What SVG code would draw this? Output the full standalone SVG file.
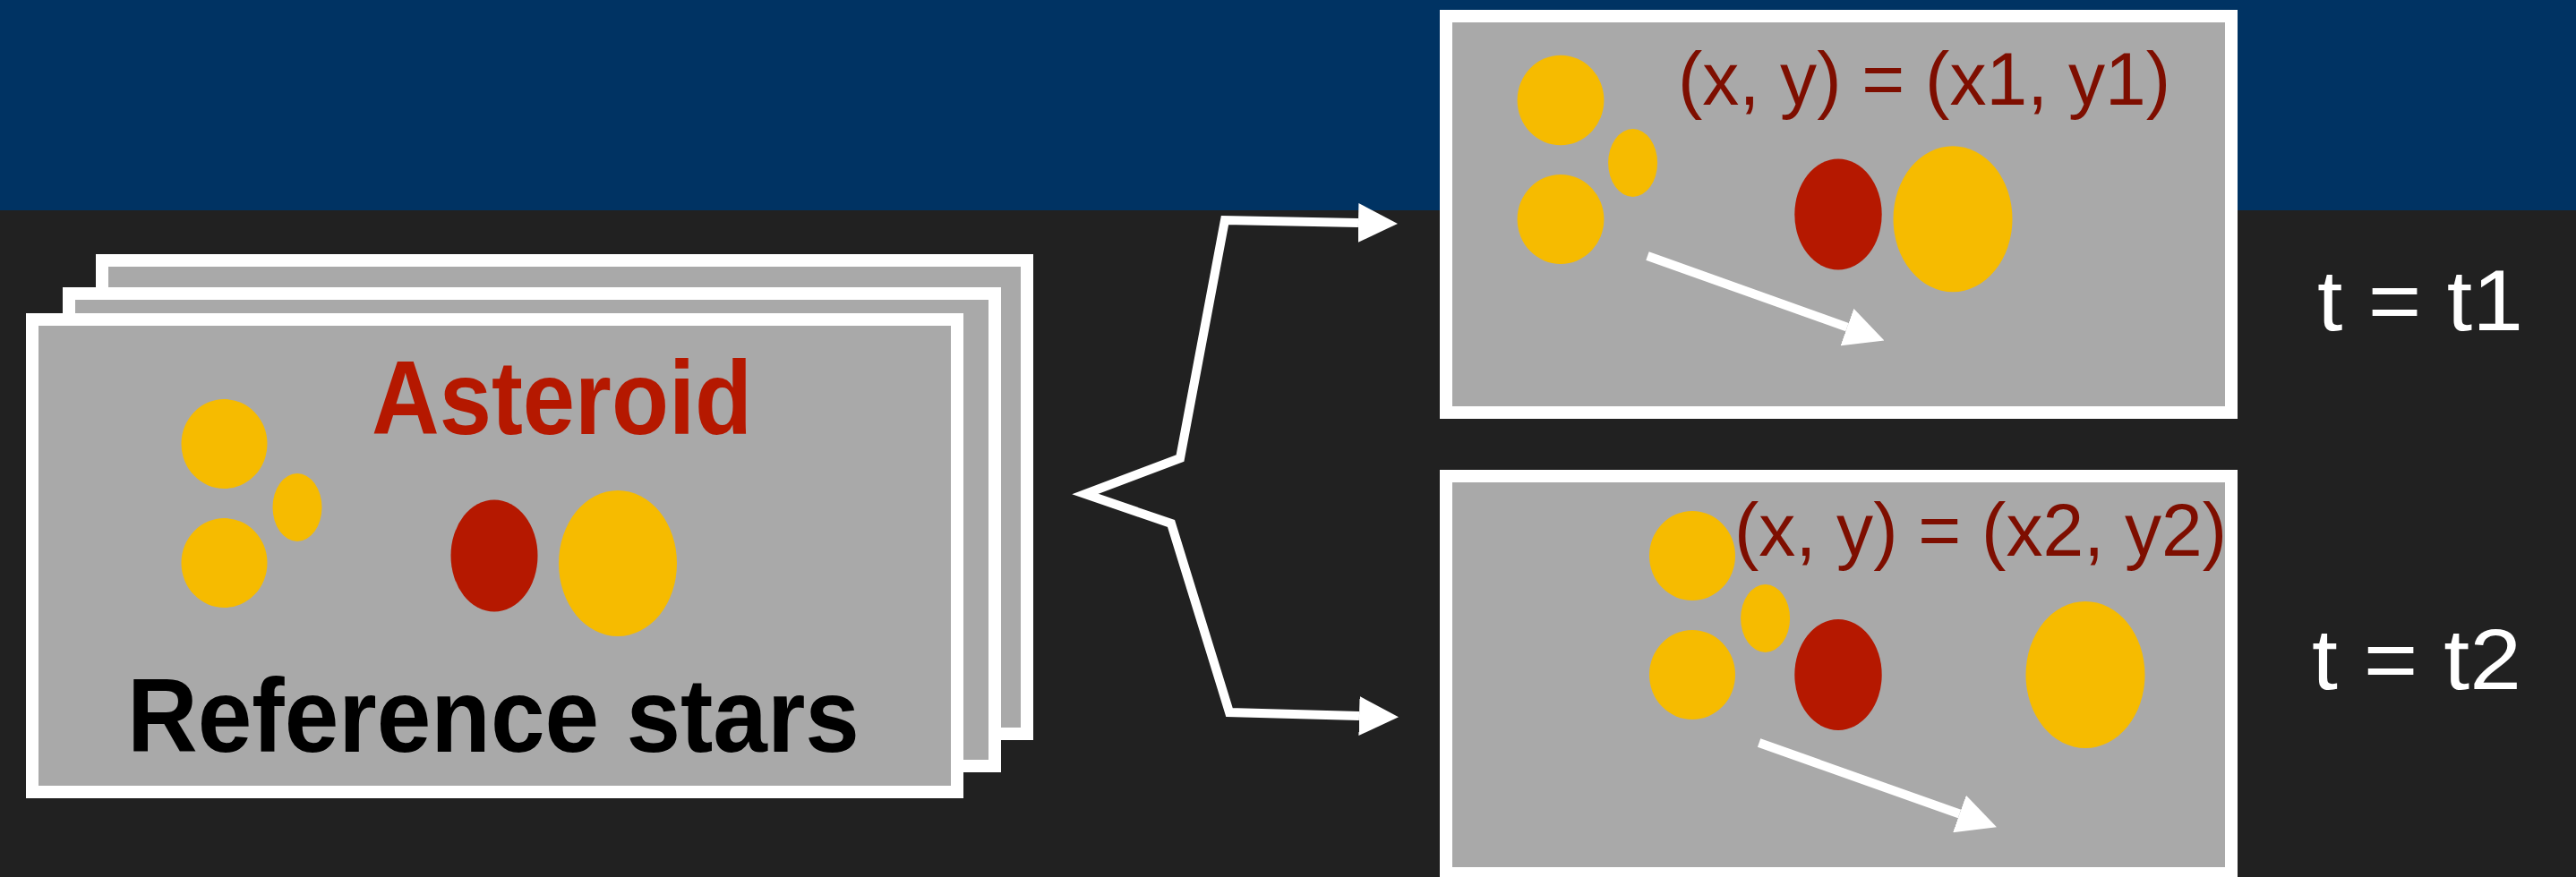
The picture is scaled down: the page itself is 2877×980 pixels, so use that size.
<svg xmlns="http://www.w3.org/2000/svg" width="2877" height="980" viewBox="0 0 2877 980">
<style>
.sheet{fill:#A9A9A9;stroke:#FFFFFF;stroke-width:14}
.star{fill:#F6BB00}
.ast{fill:#B51800}
.conn{fill:none;stroke:#FFFFFF;stroke-width:10;stroke-linejoin:miter;stroke-miterlimit:6}
.coord{font-family:"Liberation Sans",Arial,sans-serif;font-size:83px;fill:#7E0E00}
.time{font-family:"Liberation Sans",Arial,sans-serif;font-size:97px;fill:#FFFFFF}
</style>
<defs>
<marker id="ah" viewBox="0 0 44 44" refX="0" refY="22" markerWidth="44" markerHeight="44" markerUnits="userSpaceOnUse" orient="auto-start-reverse">
<path d="M0,0 L44,22 L0,44 z" fill="#FFFFFF"/>
</marker>
</defs>
<rect x="0" y="0" width="2877" height="980" fill="#212121"/>
<rect x="0" y="0" width="2877" height="235" fill="#003363"/>

<g id="reference-frames">
<rect class="sheet" x="114" y="291" width="1033" height="529"/>
<rect class="sheet" x="77" y="328" width="1034" height="528"/>
<rect class="sheet" x="36" y="357" width="1033" height="528"/>
<ellipse class="star" cx="250.5" cy="496" rx="48" ry="50"/>
<ellipse class="star" cx="250.5" cy="629" rx="48" ry="50"/>
<ellipse class="star" cx="332" cy="567" rx="27.5" ry="38"/>
<ellipse class="ast" cx="552" cy="621" rx="48.5" ry="62.5"/>
<ellipse class="star" cx="690" cy="629.5" rx="66" ry="81.5"/>
<text x="415" y="485" font-family="Liberation Sans, Arial, sans-serif" font-weight="bold" font-size="116" fill="#B51800" textLength="425" lengthAdjust="spacingAndGlyphs">Asteroid</text>
<text x="142" y="840" font-family="Liberation Sans, Arial, sans-serif" font-weight="bold" font-size="116" fill="#000000" textLength="818" lengthAdjust="spacingAndGlyphs">Reference stars</text>
</g>

<g id="frame-t1">
<rect class="sheet" x="1615" y="18" width="877" height="443"/>
<ellipse class="star" cx="1743" cy="112" rx="48.4" ry="50.3"/>
<ellipse class="star" cx="1743" cy="245" rx="48.4" ry="50"/>
<ellipse class="star" cx="1823.6" cy="182" rx="27.5" ry="38"/>
<ellipse class="ast" cx="2053" cy="239.5" rx="48.7" ry="62"/>
<ellipse class="star" cx="2181" cy="244.7" rx="66.5" ry="81.5"/>
<line class="conn" x1="1840" y1="286" x2="2063" y2="365.6" marker-end="url(#ah)"/>
<text class="coord" x="1874" y="117" textLength="550" lengthAdjust="spacingAndGlyphs">(x, y) = (x1, y1)</text>
</g>

<g id="frame-t2">
<rect class="sheet" x="1615" y="532" width="877" height="444"/>
<ellipse class="star" cx="1890" cy="621" rx="48" ry="50"/>
<ellipse class="star" cx="1890" cy="754" rx="48" ry="50"/>
<ellipse class="star" cx="1971.6" cy="691" rx="27.5" ry="38"/>
<ellipse class="ast" cx="2053" cy="754" rx="48.7" ry="62"/>
<ellipse class="star" cx="2329" cy="754" rx="66.5" ry="82"/>
<line class="conn" x1="1964.6" y1="830" x2="2188.5" y2="909.5" marker-end="url(#ah)"/>
<text class="coord" x="1937" y="621" textLength="550" lengthAdjust="spacingAndGlyphs">(x, y) = (x2, y2)</text>
</g>

<g id="label-t1">
<text class="time" x="2588" y="369" textLength="230" lengthAdjust="spacingAndGlyphs">t = t1</text>
</g>
<g id="label-t2">
<text class="time" x="2582" y="770" textLength="234" lengthAdjust="spacingAndGlyphs">t = t2</text>
</g>

<g id="connectors">
<path class="conn" d="M1517,249 L1368,246 L1318,512 L1212,552 L1308,585 L1373,796 L1518,800" marker-start="url(#ah)" marker-end="url(#ah)"/>
</g>
</svg>
